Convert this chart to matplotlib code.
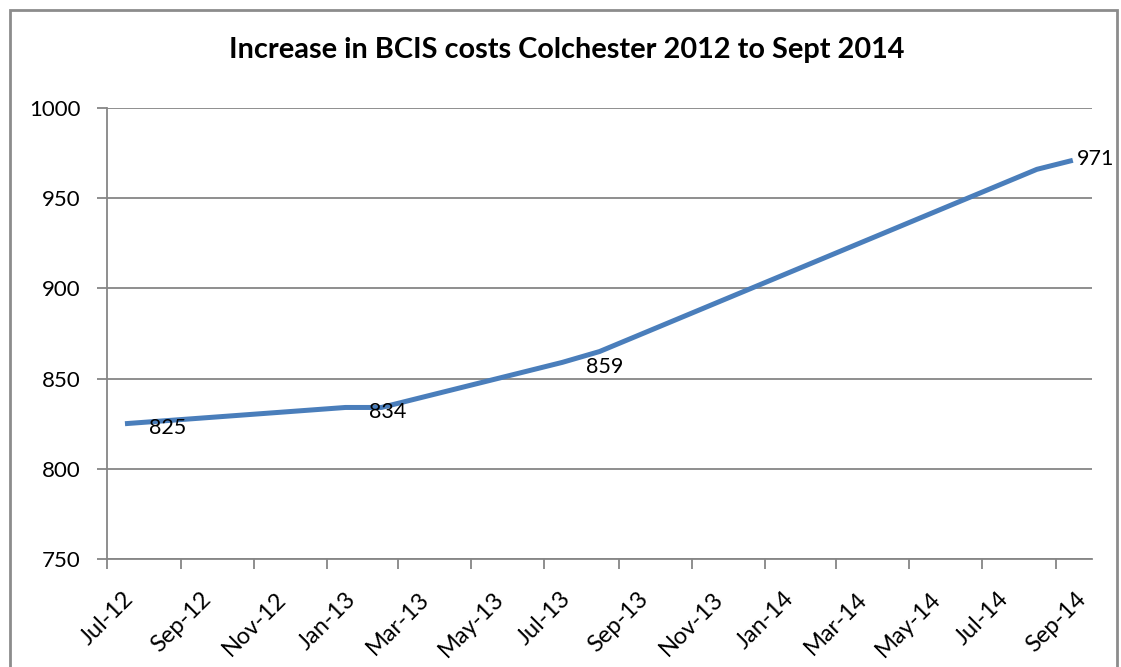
import matplotlib
matplotlib.use("Agg")
import matplotlib.pyplot as plt
import matplotlib.dates as mdates
from matplotlib.patches import Rectangle
import pandas as pd

# vertices of the BCIS line (mid-month positions)
dates = ["2012-07-16", "2013-01-16", "2013-02-15", "2013-07-16",
         "2013-08-16", "2014-08-16", "2014-09-15"]
values = [825, 834, 834, 859, 865, 966, 971]
# which vertices carry a data label
labelled = [True, True, False, True, False, False, True]

y_ticks = [750, 800, 850, 900, 950, 1000]
x_start, x_end = "2012-07-01", "2014-10-01"

TITLE = "Increase in BCIS costs Colchester 2012 to Sept 2014"
LINE_COLOR = "#4A7EBB"
GRID_COLOR = "#868686"

plt.rcParams["font.family"] = ["Lato", "DejaVu Sans"]

fig = plt.figure(figsize=(11.21, 6.67), dpi=100)
W, H = 1121, 667
ax = fig.add_axes([107 / W, 1 - 559 / H, (1092 - 107) / W, (559 - 108) / H])

x = pd.to_datetime(dates)
ax.plot(x, values, color=LINE_COLOR, lw=3.6, solid_capstyle="butt",
        solid_joinstyle="round", zorder=3)

n = len(values)
for i, (xi, v, lab) in enumerate(zip(x, values, labelled)):
    if not lab:
        continue
    # Excel pushes the last label inward so it stays inside the chart
    dx, dy = (3, 1) if i == n - 1 else (17, -3)
    ax.annotate(str(v), (xi, v), xytext=(dx, dy), textcoords="offset points",
                ha="left", va="center", fontsize=15.5, color="black", zorder=4)

ax.set_xlim(pd.Timestamp(x_start), pd.Timestamp(x_end))
ax.set_ylim(y_ticks[0], y_ticks[-1])
ax.set_yticks(y_ticks)
ax.yaxis.grid(True, color=GRID_COLOR, lw=1.3)
ax.set_axisbelow(True)

ax.xaxis.set_major_locator(mdates.MonthLocator(bymonth=[1, 3, 5, 7, 9, 11]))
ax.xaxis.set_major_formatter(mdates.DateFormatter("%b-%y"))
plt.setp(ax.get_xticklabels(), rotation=45, ha="center", va="top")

for side in ("top", "right"):
    ax.spines[side].set_visible(False)
for side in ("left", "bottom"):
    ax.spines[side].set_color(GRID_COLOR)
    ax.spines[side].set_linewidth(1.3)

ax.tick_params(axis="both", colors=GRID_COLOR, labelcolor="black",
               labelsize=17, width=1.3, length=7, direction="out")
ax.tick_params(axis="x", pad=14)
ax.tick_params(axis="y", labelsize=16, pad=12)

fig.text(567 / W, 1 - 50 / H, TITLE, ha="center", va="center",
         fontsize=20.8, fontweight="bold")

# outer chart border
fig.patches.append(Rectangle((9.5 / W, -0.05), (1117 - 9.5) / W, 1.05 - 9.5 / H,
                             transform=fig.transFigure, fill=False,
                             edgecolor="#8C8C8C", lw=2))

fig.savefig("out.png", dpi=100)
